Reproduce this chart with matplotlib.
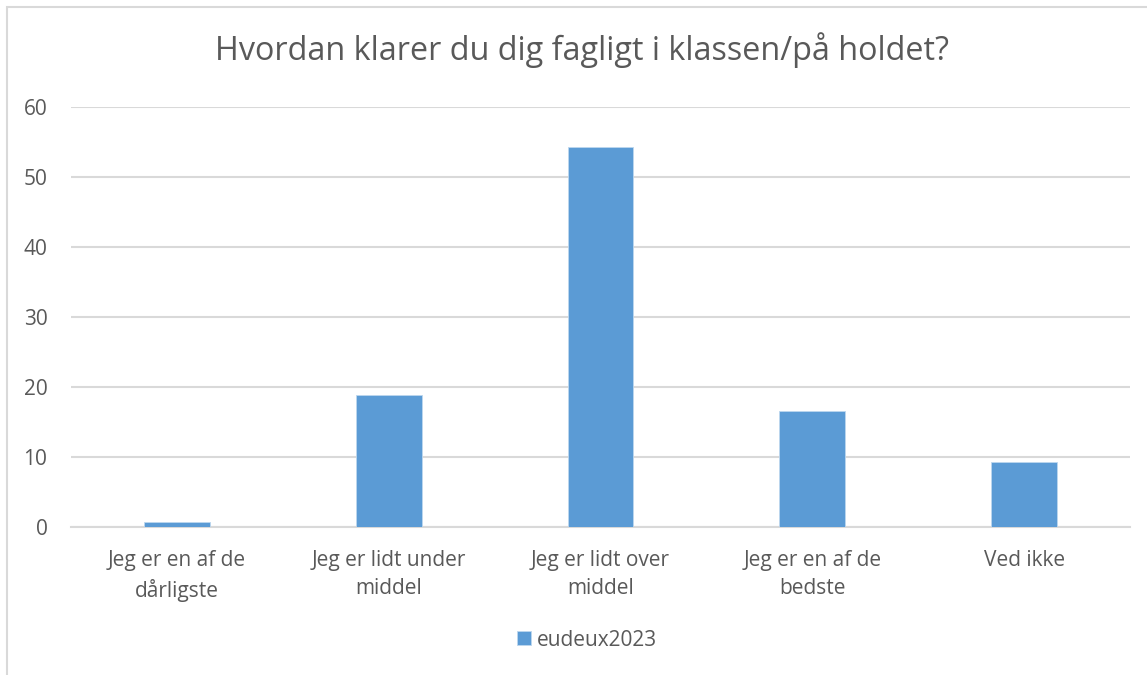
import matplotlib.pyplot as plt
from matplotlib.patches import Rectangle

categories = [
    "Jeg er en af de\ndårligste",
    "Jeg er lidt under\nmiddel",
    "Jeg er lidt over\nmiddel",
    "Jeg er en af de\nbedste",
    "Ved ikke",
]
values = [0.7, 18.8, 54.3, 16.6, 9.3]
series_name = "eudeux2023"
title = "Hvordan klarer du dig fagligt i klassen/på holdet?"

bar_color = "#5B9BD5"
text_color = "#595959"
grid_color = "#D9D9D9"

plt.rcParams["font.family"] = ["Open Sans", "DejaVu Sans"]

fig = plt.figure(figsize=(11.47, 6.75), dpi=100)
ax = fig.add_axes([71 / 1147, 1 - 527 / 675, 1059 / 1147, 420 / 675])

# chart frame (cut off on the right and bottom in the reference)
fig.patches.append(Rectangle((7 / 1147, -0.1), 1.2, 1 - 7 / 675 + 0.1,
                             transform=fig.transFigure, fill=False,
                             edgecolor=grid_color, linewidth=1.5))

x = range(len(categories))
ax.bar(x, values, width=0.31, color=bar_color, edgecolor="#BDD7EE",
       linewidth=0.6, label=series_name, zorder=3)

ax.set_xlim(-0.5, len(categories) - 0.5)
ax.set_ylim(0, 60)
ax.set_yticks(range(0, 61, 10))
ax.set_xticks(list(x))
ax.set_xticklabels(categories, linespacing=1.45)
ax.tick_params(axis="both", length=0, colors=text_color, labelsize=15)
ax.tick_params(axis="x", pad=16.5)
ax.tick_params(axis="y", pad=17)
ax.grid(axis="y", color=grid_color, linewidth=1.5, zorder=0)
for side in ["top", "right", "left"]:
    ax.spines[side].set_visible(False)
ax.spines["bottom"].set_color(grid_color)
ax.spines["bottom"].set_linewidth(1.5)

fig.text(582 / 1147, 1 - 50 / 675, title, ha="center", va="center",
         fontsize=23.3, color=text_color)

fig.legend(loc="center", bbox_to_anchor=(587 / 1147, 1 - 640 / 675),
           frameon=False, fontsize=15, labelcolor=text_color,
           handlelength=0.65, handleheight=0.65, handletextpad=0.3)

fig.savefig("out.png", dpi=100)
